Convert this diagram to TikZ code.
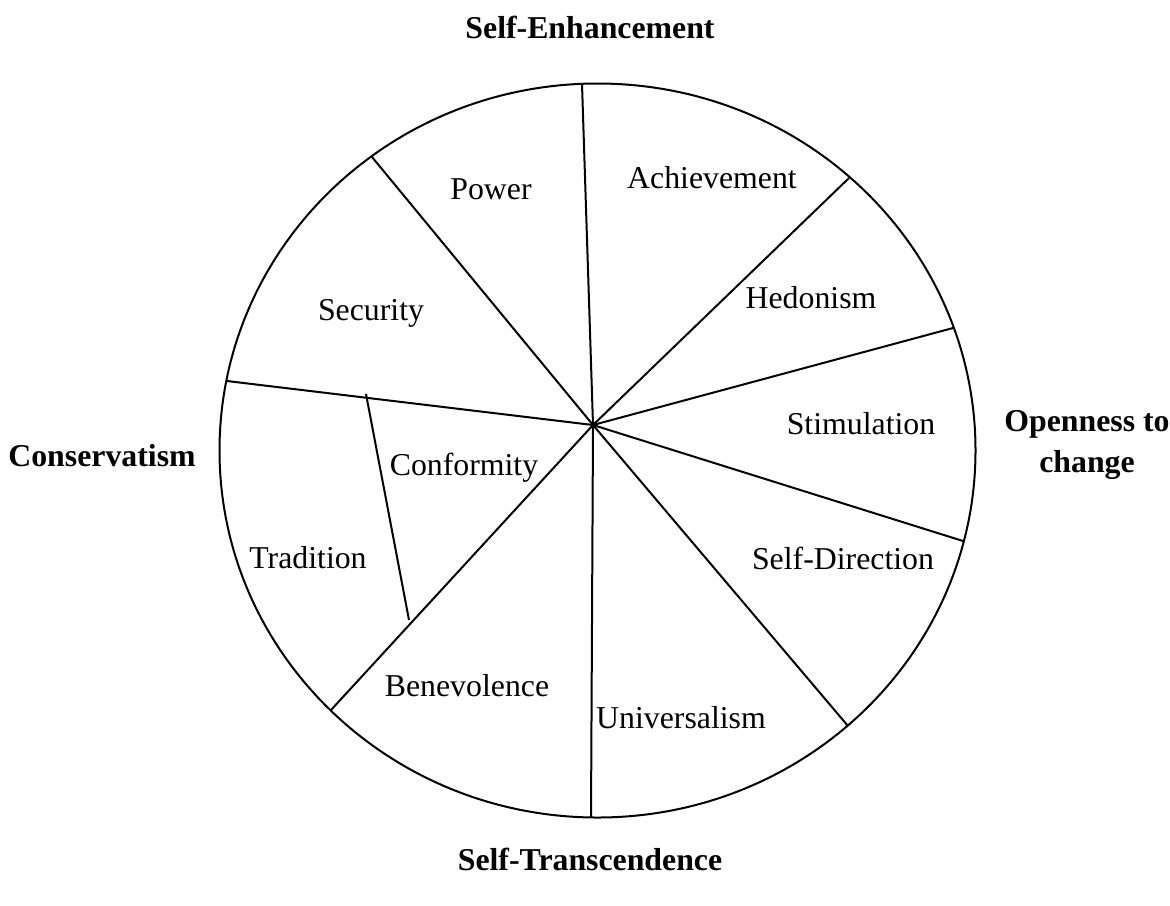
\documentclass[tikz,border=0pt]{standalone}
\usepackage{fontspec}
\setmainfont{Liberation Serif}
\begin{document}
\begin{tikzpicture}[x=0.5bp,y=-0.5bp,
  seg/.style={line width=1bp,black},
  lab/.style={inner sep=0pt,font=\fontsize{15.9bp}{19bp}\selectfont},
  pole/.style={inner sep=0pt,align=center,font=\fontsize{15.9bp}{20.5bp}\selectfont\bfseries}]
\useasboundingbox (0,0) rectangle (1170,905);
% outline
\draw[seg] (597.5,450.5) ellipse [x radius=378, y radius=367];
% hub and rim points
\coordinate (hub) at (593,425);
\coordinate (rTop) at (582,84);
\coordinate (rPS) at (372,157);
\coordinate (rAH) at (849,178);
\coordinate (rHS) at (953,328);
\coordinate (rSD) at (963,541);
\coordinate (rDU) at (848,726);
\coordinate (rBot) at (591,817);
\coordinate (rBT) at (331,710);
\coordinate (rST) at (227,381);
\coordinate (cA) at (366,394);
\coordinate (cB) at (409,620);
\foreach \p in {rTop,rPS,rAH,rHS,rSD,rDU,rBot,rBT,rST}
  \draw[seg] (hub) -- (\p);
\draw[seg] (cA) -- (cB);
% value labels
\node[lab] (power) at (491,189) {Power};
\node[lab] (achv) at (712,178) {Achievement};
\node[lab] (hedo) at (811,298) {Hedonism};
\node[lab] (secu) at (371,313) {Security};
\node[lab] (stim) at (861,424) {Stimulation};
\node[lab] (conf) at (464,468) {Conformity};
\node[lab] (trad) at (308,558) {Tradition};
\node[lab] (sdir) at (843,558) {Self-Direction};
\node[lab] (bene) at (467,686) {Benevolence};
\node[lab] (univ) at (681,718) {Universalism};
% poles
\node[pole] (senh) at (590,27) {Self-Enhancement};
\node[pole] (stra) at (590,859) {Self-Transcendence};
\node[pole] (cons) at (102,456) {Conservatism};
\node[pole] (open) at (1087,445) {Openness to\\change};
\end{tikzpicture}
\end{document}
